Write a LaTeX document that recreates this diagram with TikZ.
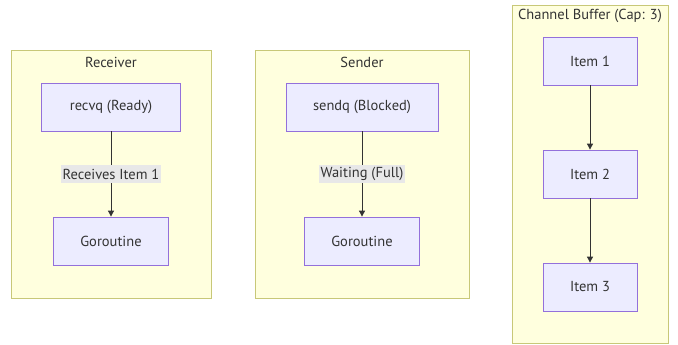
\documentclass[tikz,border=0pt]{standalone}
\usepackage{fontspec}
\setmainfont{PT Sans}
\usetikzlibrary{arrows.meta}

\begin{document}
\begin{tikzpicture}[x = 1pt, y = -1pt]
  \definecolor{clusterfill}{HTML}{FFFFDE}
  \definecolor{clusterline}{HTML}{C8C878}
  \definecolor{queuefill}{HTML}{ECECFF}
  \definecolor{queueline}{HTML}{9370DB}
  \definecolor{labelfill}{HTML}{E8E8E8}
  \definecolor{inkgray}{HTML}{333333}
  \tikzstyle{every node}=[font=\fontsize{14.5}{17}\selectfont, text=inkgray]
  \tikzstyle{cluster}=[draw=clusterline, fill=clusterfill, line width=0.8pt, anchor=north west]
  \tikzstyle{queue}=[draw=queueline, fill=queuefill, line width=0.8pt, minimum height=48]
  \tikzstyle{flow}=[draw=inkgray, line width=0.9pt, -{Triangle[length=6pt, width=6pt]}]
  \tikzstyle{tag}=[fill=labelfill, inner sep=1.5pt, minimum height=18]

  \useasboundingbox (0,0) rectangle (678,345);

  % the three groups
  \node[cluster, minimum width=200, minimum height=248] (receiver) at (11,50) {};
  \node[cluster, minimum width=214, minimum height=248] (sender) at (255,50) {};
  \node[cluster, minimum width=156, minimum height=338] (buffer) at (512,5) {};

  \node (receivertitle) at (111,62) {Receiver};
  \node (sendertitle) at (362,62) {Sender};
  \node (buffertitle) at (590,16) {Channel Buffer (Cap: 3)};

  % receiver side
  \node[queue, minimum width=139] (recvq) at (111,107) {recvq (Ready)};
  \node[queue, minimum width=115] (recvg) at (111,241) {Goroutine};
  \draw[flow] (recvq) -- node[tag] {Receives Item 1} (recvg);

  % sender side
  \node[queue, minimum width=152] (sendq) at (362,107) {sendq (Blocked)};
  \node[queue, minimum width=115] (sendg) at (362,241) {Goroutine};
  \draw[flow] (sendq) -- node[tag] {Waiting (Full)} (sendg);

  % buffered items
  \node[queue, minimum width=94] (item1) at (590,61) {Item 1};
  \node[queue, minimum width=94] (item2) at (590,174) {Item 2};
  \node[queue, minimum width=94] (item3) at (590,287) {Item 3};
  \draw[flow] (item1) -- (item2);
  \draw[flow] (item2) -- (item3);

\end{tikzpicture}
\end{document}
